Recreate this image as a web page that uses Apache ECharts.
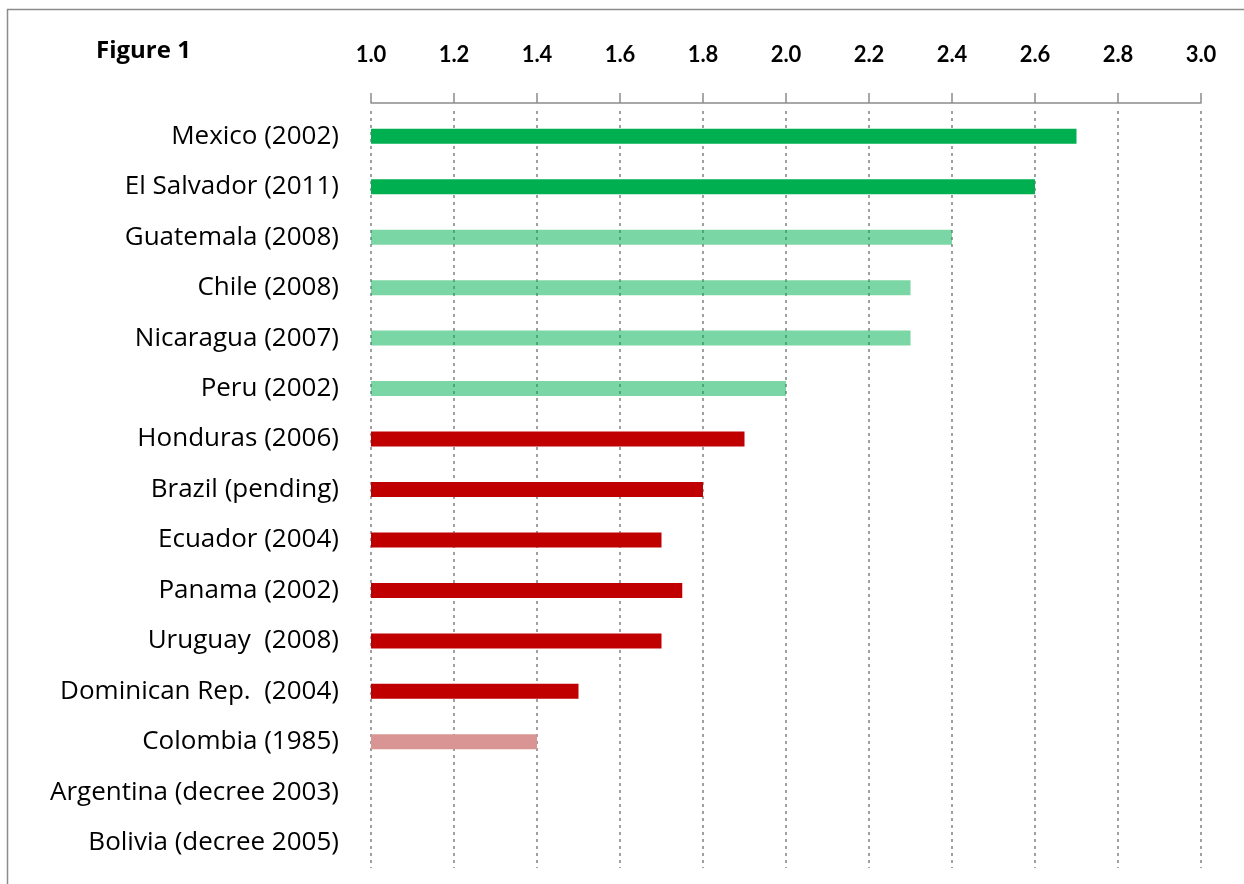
<!DOCTYPE html>
<html>
<head>
<meta charset="utf-8">
<script src="https://cdn.jsdelivr.net/npm/echarts@6/dist/echarts.min.js"></script>
<style>
html,body{margin:0;padding:0;background:#fff;}
#chart{width:1244px;height:884px;}
</style>
</head>
<body>
<div id="chart"></div>
<script>
const categories = [
  'Mexico (2002)', 'El Salvador (2011)', 'Guatemala (2008)', 'Chile (2008)',
  'Nicaragua (2007)', 'Peru (2002)', 'Honduras (2006)', 'Brazil (pending)',
  'Ecuador (2004)', 'Panama (2002)', 'Uruguay  (2008)', 'Dominican Rep.  (2004)',
  'Colombia (1985)', 'Argentina (decree 2003)', 'Bolivia (decree 2005)'
];
const values = [2.7, 2.6, 2.4, 2.3, 2.3, 2.0, 1.9, 1.8, 1.7, 1.75, 1.7, 1.5, 1.4, null, null];
const groups = ['strong','strong','medium','medium','medium','medium','weak','weak','weak','weak','weak','weak','faint','none','none'];
const tickValues = [1.0, 3.0, 0.2]; // min, max, step

const groupColors = {
  strong: '#00B050',
  medium: 'rgba(0,176,80,0.52)',
  weak: '#C00000',
  faint: '#D99594',
  none: '#ffffff'
};

const chart = echarts.init(document.getElementById('chart'));
const CAT_FONT = '"Open Sans", Lato, sans-serif';
const NUM_FONT = 'Lato, "Open Sans", sans-serif';

chart.setOption({
  animation: false,
  backgroundColor: '#ffffff',
  graphic: [
    { type: 'rect', shape: { x: 7.5, y: 9.5, width: 1400, height: 1000 },
      style: { fill: 'none', stroke: '#8c8c8c', lineWidth: 1.5 }, z: 100 },
    { type: 'text', left: 96, top: 39,
      style: { text: 'Figure 1', font: 'bold 24px ' + CAT_FONT, fill: '#000' } }
  ],
  grid: { left: 371, right: 43, top: 111, bottom: 16, containLabel: false },
  xAxis: {
    type: 'value', position: 'top', offset: 8,
    min: tickValues[0], max: tickValues[1], interval: tickValues[2],
    axisLine: { show: true, lineStyle: { color: '#8c8c8c', width: 1.5 } },
    axisTick: { show: true, inside: false, length: 10, lineStyle: { color: '#8c8c8c', width: 1.5 } },
    axisLabel: { margin: 37, fontFamily: NUM_FONT, fontSize: 22, fontWeight: 'bold', color: '#000',
      formatter: v => v.toFixed(1) },
    splitLine: { show: true, lineStyle: { color: '#A0A0A0', type: [3, 4], width: 2 } }
  },
  yAxis: {
    type: 'category', inverse: true, data: categories,
    axisLine: { show: false }, axisTick: { show: false },
    axisLabel: { margin: 32, fontFamily: CAT_FONT, fontSize: 26, color: '#000', padding: [0, 0, 6, 0] }
  },
  series: [{
    type: 'bar', barWidth: 15,
    data: values.map((v, i) => ({ value: v, itemStyle: { color: groupColors[groups[i]] } }))
  }]
});
</script>
</body>
</html>
